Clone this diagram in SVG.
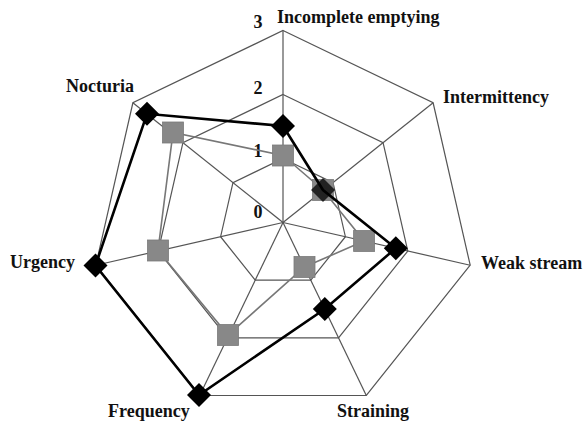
<svg xmlns="http://www.w3.org/2000/svg" width="585" height="423" viewBox="0 0 585 423">
<defs>
<style>
.lbl{font-family:"Liberation Serif","Times New Roman",serif;font-weight:bold;font-size:18px;fill:#111}
.tick{font-family:"Liberation Serif","Times New Roman",serif;font-weight:bold;font-size:18px;fill:#111;text-anchor:middle}
.grid{fill:none;stroke:#555;stroke-width:1.2}
.spoke{stroke:#555;stroke-width:1.2}
.s1{fill:none;stroke:#777;stroke-width:1.6}
.s2{fill:none;stroke:#000;stroke-width:2.6}
.sq{fill:#888;stroke:#7a7a7a;stroke-width:0.8}
.dm{fill:#000}
</style>
<rect id="m-sq" x="-10.5" y="-10.5" width="21" height="21" class="sq"/>
<path id="m-dm" d="M0,-12 L12,0 L0,12 L-12,0 Z" class="dm"/>
</defs>
<rect width="585" height="423" fill="#fff"/>
<g id="grid">
<polygon class="grid" points="283,30.5 433.11,102.79 470.19,265.22 366.31,395.49 199.69,395.49 95.81,265.22 132.89,102.79"/>
<polygon class="grid" points="283,94.5 383.07,142.69 407.79,251 338.54,337.82 227.46,337.82 158.21,251 182.93,142.69"/>
<polygon class="grid" points="283,158.5 333.04,182.6 345.4,236.74 310.77,280.16 255.23,280.16 220.6,236.74 232.96,182.6"/>
<line class="spoke" x1="283" y1="222.5" x2="283" y2="30.5"/>
<line class="spoke" x1="283" y1="222.5" x2="433.11" y2="102.79"/>
<line class="spoke" x1="283" y1="222.5" x2="470.19" y2="265.22"/>
<line class="spoke" x1="283" y1="222.5" x2="366.31" y2="395.49"/>
<line class="spoke" x1="283" y1="222.5" x2="199.69" y2="395.49"/>
<line class="spoke" x1="283" y1="222.5" x2="95.81" y2="265.22"/>
<line class="spoke" x1="283" y1="222.5" x2="132.89" y2="102.79"/>
</g>
<g id="ticks">
<text class="tick" x="258" y="28">3</text>
<text class="tick" x="258" y="94">2</text>
<text class="tick" x="258" y="157">1</text>
<text class="tick" x="258" y="218">0</text>
</g>
<g id="connectors">
<polygon id="series-gray" class="s1" points="283,155.5 323,190 364.1,241 304.5,267 228,335 158,250.5 173,132.5"/>
<g id="gray-markers">
<use href="#m-sq" x="283" y="155.5"/>
<use href="#m-sq" x="323" y="190"/>
<use href="#m-sq" x="364.1" y="241"/>
<use href="#m-sq" x="304.5" y="267"/>
<use href="#m-sq" x="228" y="335"/>
<use href="#m-sq" x="158" y="250.5"/>
<use href="#m-sq" x="173" y="132.5"/>
</g>
<polygon id="series-black" class="s2" points="283,126 323,190 395.8,248.2 324.8,309 199,395 95.5,265.5 147,113.8"/>
</g>
<g id="black-markers">
<use href="#m-dm" x="283" y="126"/>
<use href="#m-dm" x="323" y="190" style="opacity:0.75"/>
<use href="#m-dm" x="395.8" y="248.2"/>
<use href="#m-dm" x="324.8" y="309"/>
<use href="#m-dm" x="199" y="395"/>
<use href="#m-dm" x="95.5" y="265.5"/>
<use href="#m-dm" x="147" y="113.8"/>
</g>
<g id="node-incomplete"><text class="lbl" x="277" y="23">Incomplete emptying</text></g>
<g id="node-intermittency"><text class="lbl" x="443" y="103">Intermittency</text></g>
<g id="node-weak"><text class="lbl" x="481" y="269">Weak stream</text></g>
<g id="node-straining"><text class="lbl" x="337" y="417">Straining</text></g>
<g id="node-frequency"><text class="lbl" x="108" y="417">Frequency</text></g>
<g id="node-urgency"><text class="lbl" x="10" y="268">Urgency</text></g>
<g id="node-nocturia"><text class="lbl" x="66" y="92">Nocturia</text></g>
</svg>
